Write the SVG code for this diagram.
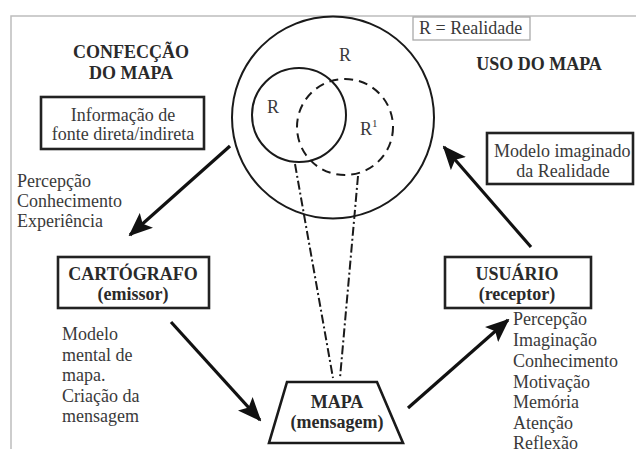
<svg xmlns="http://www.w3.org/2000/svg" width="636" height="449" viewBox="0 0 636 449" font-family="Liberation Serif, Times New Roman, Times, serif">
<style>
text{font-size:18px;fill:#3a3a3a}
.b{font-weight:bold;fill:#2a2a2a}
.m{text-anchor:middle}
.box{fill:#fff;stroke:#222;stroke-width:2.6}
.c{fill:none;stroke:#1a1a1a;stroke-width:2}
.dd{fill:none;stroke:#1a1a1a;stroke-width:2;stroke-dasharray:9 3 2 3}
.arr{fill:none;stroke:#111;stroke-width:3.2;marker-end:url(#ah)}
</style>
<defs>
<marker id="ah" viewBox="0 0 24 20" refX="22" refY="10" markerWidth="24" markerHeight="20" markerUnits="userSpaceOnUse" orient="auto">
<path d="M0,0 L24,10 L0,20 L5,10 z" fill="#111"/>
</marker>
</defs>
<rect width="636" height="449" fill="#fff"/>
<rect x="11" y="16" width="640" height="450" fill="none" stroke="#bdbdbd" stroke-width="1.5"/>

<g id="realidade">
<circle class="c" cx="333" cy="117.5" r="101"/>
<circle class="c" cx="299" cy="115" r="47"/>
<circle class="c" cx="345" cy="127" r="48" stroke-dasharray="9 6"/>
<text class="m" x="345" y="61">R</text>
<text class="m" x="273" y="113">R</text>
<text x="360" y="135">R<tspan font-size="11" dy="-8">1</tspan></text>
</g>

<g id="legenda">
<rect x="413" y="17" width="117" height="23" fill="#fff" stroke="#aaa" stroke-width="1.3"/>
<text x="419" y="34">R = Realidade</text>
</g>

<g id="confeccao">
<text class="b m" x="131" y="58">CONFECÇÃO</text>
<text class="b m" x="131" y="79">DO MAPA</text>
</g>

<g id="uso">
<text class="b m" x="539" y="70">USO DO MAPA</text>
</g>

<g id="informacao">
<rect class="box" x="41" y="97" width="163" height="52"/>
<text class="m" x="123" y="121">Informação  de</text>
<text class="m" x="123" y="140">fonte direta/indireta</text>
</g>

<g id="percepcao-esq">
<text x="17" y="187">Percepção</text>
<text x="17" y="207">Conhecimento</text>
<text x="17" y="227">Experiência</text>
</g>

<g id="modelo-imaginado">
<rect class="box" x="487" y="133" width="146" height="51"/>
<text x="494" y="157">Modelo imaginado</text>
<text class="m" x="563" y="177">da  Realidade</text>
</g>

<g id="cartografo">
<rect class="box" x="58" y="257" width="151" height="51"/>
<text class="b m" x="133" y="280">CARTÓGRAFO</text>
<text class="b m" x="133" y="300">(emissor)</text>
</g>

<g id="modelo-mental">
<text x="62" y="340">Modelo</text>
<text x="62" y="360.5">mental de</text>
<text x="62" y="381">mapa.</text>
<text x="62" y="401.5">Criação da</text>
<text x="62" y="422">mensagem</text>
</g>

<g id="usuario">
<rect class="box" x="445" y="257" width="146" height="51"/>
<text class="b m" x="517" y="280">USUÁRIO</text>
<text class="b m" x="517" y="300">(receptor)</text>
</g>

<g id="atributos-usuario">
<text x="513" y="325">Percepção</text>
<text x="513" y="346">Imaginação</text>
<text x="513" y="367">Conhecimento</text>
<text x="513" y="387.5">Motivação</text>
<text x="513" y="408">Memória</text>
<text x="513" y="429">Atenção</text>
<text x="513" y="449">Reflexão</text>
</g>

<g id="mapa">
<path d="M287,382 L377,382 L403,443 L269,443 z" fill="#fff" stroke="#1a1a1a" stroke-width="2.6"/>
<text class="b m" x="337" y="408">MAPA</text>
<text class="b m" x="337" y="428">(mensagem)</text>
</g>

<g id="conectores">
<line class="dd" x1="295" y1="164" x2="333" y2="378"/>
<line class="dd" x1="358" y1="176" x2="340" y2="378"/>
<line class="arr" x1="230" y1="146" x2="130" y2="235"/>
<line class="arr" x1="171" y1="322" x2="260" y2="420"/>
<line class="arr" x1="408" y1="408" x2="508" y2="320"/>
<line class="arr" x1="531" y1="247" x2="444" y2="147"/>
</g>
</svg>
